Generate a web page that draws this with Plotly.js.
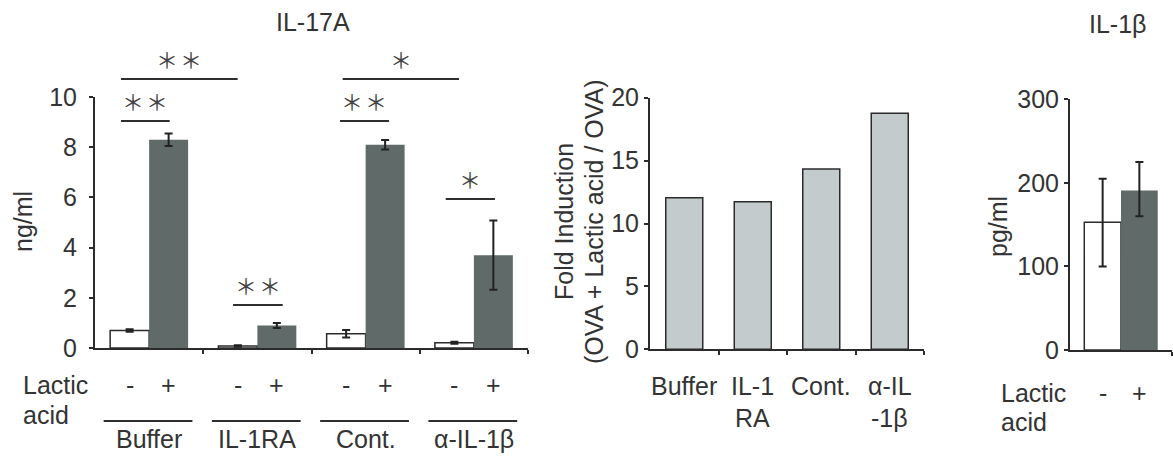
<!DOCTYPE html>
<html>
<head>
<meta charset="utf-8">
<script src="https://cdn.plot.ly/plotly-3.0.1.min.js"></script>
<style>html,body{margin:0;padding:0;background:#fff;}#chart{width:1173px;height:463px;}</style>
</head>
<body>
<div id="chart"></div>
<script>
// ---------- data ----------
const il17Groups = ["Buffer", "IL-1RA", "Cont.", "α-IL-1β"];
const il17Minus = [0.70, 0.08, 0.57, 0.21];
const il17MinusErr = [0.05, 0.03, 0.15, 0.04];
const il17Plus = [8.30, 0.90, 8.10, 3.70];
const il17PlusErr = [0.25, 0.10, 0.19, 1.38];
const lacticSigns = ["-", "+"];

const foldCats = ["Buffer", "IL-1<br>RA", "Cont.", "α-IL<br>-1β"];
const foldValues = [12.05, 11.73, 14.33, 18.76];

const il1bMinus = [153];
const il1bMinusErrUp = [52];
const il1bMinusErrDown = [53];
const il1bPlus = [191];
const il1bPlusErrUp = [34];
const il1bPlusErrDown = [31];

// significance brackets (left panel, x in group units, y in ng/ml)
const sigFrom = [-0.26, -0.26, 0.775, 1.763, 1.788, 2.74];
const sigTo = [0.19, 0.818, 1.234, 2.216, 2.863, 3.195];
const sigLevel = [9.04, 10.72, 1.71, 9.04, 10.72, 5.94];
const sigLabel = ["**", "**", "**", "**", "*", "*"];

// ---------- styling / layout helpers ----------
const W = 1173, H = 463;
const fx = px => px / W;
const fy = py => 1 - py / H;
const FONT = "Liberation Sans, Arial, Helvetica, sans-serif";
const TXT = "#333333";
const AX = "#2b2b2b";
const DARK = "#5f6a69";
const LIGHT = "#c3cbcc";
const FS = 25;
const BW = 0.36; // bar width (group units) for paired bars

const leftDom = {x: [fx(95), fx(528)], y: [fy(348), fy(97)]};
const midDom = {x: [fx(650), fx(924)], y: [fy(349.3), fy(97.7)]};
const rightDom = {x: [fx(1070), fx(1172)], y: [fy(350), fy(99.3)]};

const idx = arr => arr.map((_, i) => i);
const gIdx = idx(il17Groups);
const fIdx = idx(foldCats);

const errStyle = (arr, minus) => ({type: "data", array: arr, arrayminus: minus || arr, symmetric: !minus,
  visible: true, color: "#222", thickness: 2, width: 4});

const traces = [
  {type: "bar", x: gIdx, y: il17Minus, xaxis: "x", yaxis: "y", width: BW, offset: -BW,
   marker: {color: "#ffffff", line: {color: AX, width: 1.5}}, error_y: errStyle(il17MinusErr), hoverinfo: "y"},
  {type: "bar", x: gIdx, y: il17Plus, xaxis: "x", yaxis: "y", width: BW, offset: 0,
   marker: {color: DARK, line: {width: 0}}, error_y: errStyle(il17PlusErr), hoverinfo: "y"},
  {type: "bar", x: fIdx, y: foldValues, xaxis: "x3", yaxis: "y3", width: 0.54,
   marker: {color: LIGHT, line: {color: AX, width: 1.5}}, hoverinfo: "y"},
  {type: "bar", x: [0], y: il1bMinus, xaxis: "x5", yaxis: "y5", width: BW, offset: -BW,
   marker: {color: "#ffffff", line: {color: AX, width: 1.5}}, error_y: errStyle(il1bMinusErrUp, il1bMinusErrDown), hoverinfo: "y"},
  {type: "bar", x: [0], y: il1bPlus, xaxis: "x5", yaxis: "y5", width: BW, offset: 0,
   marker: {color: DARK, line: {width: 0}}, error_y: errStyle(il1bPlusErrUp, il1bPlusErrDown), hoverinfo: "y"}
];

// significance bracket lines as a scatter on an extended y axis (y7)
const bx = [], by = [];
sigFrom.forEach((f, i) => { bx.push(f, sigTo[i], null); by.push(sigLevel[i], sigLevel[i], null); });
traces.push({type: "scatter", mode: "lines", x: bx, y: by, xaxis: "x", yaxis: "y7",
  line: {color: "#2e2e2e", width: 2}, hoverinfo: "skip", connectgaps: false});

const tickFont = {family: FONT, size: 25, color: TXT};
function mainX(dom, range, tv, anchor) {
  return {domain: dom, range: range, anchor: anchor, showline: true, linecolor: AX, linewidth: 2,
    tickmode: "array", tickvals: tv, ticks: "outside", ticklen: 4, tickwidth: 2, tickcolor: AX,
    showticklabels: false, showgrid: false, zeroline: false, fixedrange: true};
}
function overX(over, range, tv, anchor) {
  return {overlaying: over, range: range, anchor: anchor, showline: false,
    tickmode: "array", tickvals: tv, ticks: "inside", ticklen: 4, tickwidth: 2, tickcolor: AX,
    showticklabels: false, showgrid: false, zeroline: false, fixedrange: true};
}
function mainY(dom, range, dtick, anchor, standoff) {
  return {domain: dom, range: range, anchor: anchor, showline: true, linecolor: AX, linewidth: 2,
    tickmode: "linear", tick0: 0, dtick: dtick, ticks: "outside", ticklen: 4, tickwidth: 2, tickcolor: AX,
    tickfont: tickFont, ticklabelstandoff: standoff, showgrid: false, zeroline: false, fixedrange: true};
}
function overY(over, range, dtick, anchor) {
  return {overlaying: over, range: range, anchor: anchor, side: "left", showline: false,
    tickmode: "linear", tick0: 0, dtick: dtick, ticks: "inside", ticklen: 4, tickwidth: 2, tickcolor: AX,
    showticklabels: false, showgrid: false, zeroline: false, fixedrange: true};
}

const nG = il17Groups.length, nF = foldCats.length;
const leftRange = [-0.5, nG - 0.5];
const leftTicks = gIdx.map(i => i + 0.5);
const midRange = [-0.5, nF - 0.5];
const midTicks = fIdx.map(i => i + 0.5);
const rightRange = [-0.5, 0.5];
const rightTicks = [0.5];

const leftYMax = 10;
const extTop = leftYMax * (1 - leftDom.y[0]) / (leftDom.y[1] - leftDom.y[0]);

const annotations = [];
const ann = (o) => annotations.push(Object.assign({showarrow: false, xanchor: "center", yanchor: "middle",
  font: {family: FONT, size: FS, color: TXT}}, o));

// titles
ann({text: "IL-17A", xref: "paper", yref: "paper", x: fx(313), y: fy(22)});
ann({text: "IL-1β", xref: "paper", yref: "paper", x: fx(1117), y: fy(24)});
// y titles
ann({text: "ng/ml", xref: "paper", yref: "paper", x: fx(23), y: fy(222), textangle: -90});
ann({text: "Fold Induction", xref: "paper", yref: "paper", x: fx(564), y: fy(222), textangle: -90});
ann({text: "(OVA + Lactic acid / OVA)", xref: "paper", yref: "paper", x: fx(594), y: fy(222), textangle: -90});
ann({text: "pg/ml", xref: "paper", yref: "paper", x: fx(998), y: fy(227), textangle: -90});
// Lactic acid labels
ann({text: "Lactic", xref: "paper", yref: "paper", x: fx(21), y: fy(385), xanchor: "left"});
ann({text: "acid", xref: "paper", yref: "paper", x: fx(21), y: fy(415), xanchor: "left"});
ann({text: "Lactic", xref: "paper", yref: "paper", x: fx(999), y: fy(393), xanchor: "left"});
ann({text: "acid", xref: "paper", yref: "paper", x: fx(999), y: fy(422), xanchor: "left"});
// -/+ signs and group names
gIdx.forEach(i => {
  ann({text: lacticSigns[0], xref: "x", yref: "paper", x: i - BW / 2, y: fy(385)});
  ann({text: lacticSigns[1], xref: "x", yref: "paper", x: i + BW / 2, y: fy(385)});
  ann({text: il17Groups[i], xref: "x", yref: "paper", x: i, y: fy(439)});
});
ann({text: lacticSigns[0], xref: "x5", yref: "paper", x: -BW / 2, y: fy(393)});
ann({text: lacticSigns[1], xref: "x5", yref: "paper", x: BW / 2, y: fy(393)});
// middle category labels (two lines)
fIdx.forEach(i => {
  foldCats[i].split("<br>").forEach((line, k) => {
    ann({text: line, xref: "x3", yref: "paper", x: i, y: fy(386 + 32 * k)});
  });
});
// significance stars (each star drawn separately, 24 px apart)
sigLabel.forEach((s, i) => {
  const n = s.length;
  for (let k = 0; k < n; k++) {
    ann({text: "＊", xref: "x", yref: "y7", x: (sigFrom[i] + sigTo[i]) / 2, y: sigLevel[i],
         yshift: 21, xshift: (k - (n - 1) / 2) * 24,
         font: {family: "Noto Sans CJK JP, sans-serif", size: 22, color: "#444"}});
  }
});

// group underlines
const shapes = gIdx.map(i => ({type: "line", xref: "x", yref: "paper", x0: i - 0.42, x1: i + 0.40,
  y0: fy(421), y1: fy(421), line: {color: "#2e2e2e", width: 2}}));

const layout = {
  width: W, height: H, margin: {l: 0, r: 0, t: 0, b: 0},
  paper_bgcolor: "#fff", plot_bgcolor: "rgba(0,0,0,0)",
  barmode: "overlay", showlegend: false,
  font: {family: FONT, size: FS, color: TXT},
  xaxis: mainX(leftDom.x, leftRange, leftTicks, "y"),
  xaxis2: overX("x", leftRange, leftTicks, "y"),
  yaxis: mainY(leftDom.y, [0, leftYMax], 2, "x", 7),
  yaxis2: overY("y", [0, leftYMax], 2, "x"),
  yaxis7: {domain: [leftDom.y[0], 1], range: [0, extTop], anchor: "x", showline: false, showticklabels: false,
           ticks: "", showgrid: false, zeroline: false, fixedrange: true},
  xaxis3: mainX(midDom.x, midRange, midTicks, "y3"),
  xaxis4: overX("x3", midRange, midTicks, "y3"),
  yaxis3: mainY(midDom.y, [0, 20], 5, "x3", 0),
  yaxis4: overY("y3", [0, 20], 5, "x3"),
  xaxis5: mainX(rightDom.x, rightRange, rightTicks, "y5"),
  xaxis6: overX("x5", rightRange, rightTicks, "y5"),
  yaxis5: mainY(rightDom.y, [0, 300], 100, "x5", 0),
  yaxis6: overY("y5", [0, 300], 100, "x5"),
  annotations: annotations,
  shapes: shapes
};

Plotly.newPlot("chart", traces, layout, {displayModeBar: false, staticPlot: true});
</script>
</body>
</html>
